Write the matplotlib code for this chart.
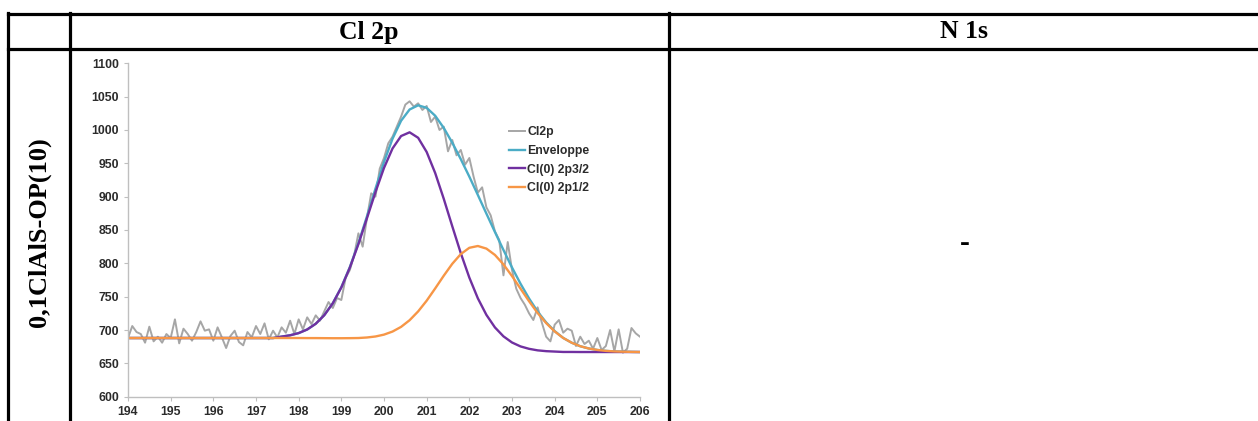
import numpy as np
import matplotlib.pyplot as plt
from matplotlib.lines import Line2D

# Energies (eV) – fit curves on a 0.2 eV grid, raw spectrum on a 0.1 eV grid
be_fit = np.round(np.arange(194.0, 206.01, 0.2), 1)
be_raw = np.round(np.arange(194.0, 206.01, 0.1), 1)

# Cl2p raw spectrum (counts)
cl2p = [688, 706, 697, 694, 681, 705, 683, 690, 681, 694,
        688, 716, 680, 702, 694, 684, 697, 713, 699, 701,
        684, 704, 689, 673, 691, 699, 682, 677, 697, 689,
        706, 694, 710, 686, 699, 689, 704, 696, 714, 694,
        716, 701, 719, 709, 722, 714, 728, 742, 733, 748,
        745, 778, 790, 812, 845, 825, 868, 905, 900, 942,
        958, 980, 990, 1005, 1020, 1038, 1043, 1035, 1040, 1030,
        1036, 1012, 1020, 1000, 1005, 968, 985, 962, 970, 948,
        958, 930, 906, 914, 884, 872, 848, 835, 782, 832,
        790, 762, 748, 738, 725, 715, 734, 711, 690, 683,
        708, 715, 696, 702, 699, 676, 690, 679, 684, 672,
        688, 670, 676, 700, 668, 701, 666, 672, 703, 695,
        690]

# Enveloppe
enveloppe = [688, 688, 688, 688, 688, 688, 688, 688, 688, 688,
             688, 688, 688, 688, 688, 688, 688, 688, 690.1, 692.1,
             695.4, 700.8, 709.4, 722.3, 740.2, 764.2, 794.5, 830.3, 870.4, 912.0,
             952.0, 986.9, 1013.8, 1030.7, 1037.0, 1033.2, 1021.3, 1003.1, 980.9, 956.2,
             930.0, 902.5, 874.6, 847.0, 820.0, 793.8, 769.4, 747.3, 727.7, 711.4,
             698.4, 688.1, 680.9, 675.7, 672.3, 670.1, 668.7, 667.9, 667.5, 667.2,
             667.0]

# Cl(0) 2p3/2
cl_2p32 = [688, 688, 688, 688, 688, 688, 688, 688, 688, 688,
           688, 688, 688, 688, 688, 688, 688, 688, 690.1, 692.1,
           695.4, 700.8, 709.4, 722.2, 740.1, 763.8, 793.7, 828.8, 867.5, 906.8,
           943.1, 972.3, 990.9, 996.5, 988.3, 967.0, 935.4, 896.9, 855.6, 815.2,
           778.6, 747.5, 722.7, 703.9, 690.5, 681.3, 675.4, 671.8, 669.5, 668.3,
           667.7, 667.1, 667.1, 667, 667, 667, 667, 667, 667, 667,
           667]

# Cl(0) 2p1/2
cl_2p12 = [688, 688, 688, 688, 688, 688, 688, 688, 688, 688,
           688, 688, 688, 688, 688, 688, 688, 688, 688, 688,
           688.0, 687.9, 687.9, 687.8, 687.7, 687.7, 687.8, 688.0, 688.8, 690.3,
           693.1, 697.7, 704.7, 714.7, 727.9, 744.0, 762.4, 781.4, 799.3, 813.9,
           823.3, 826.0, 822.1, 812.6, 798.4, 780.9, 762.0, 743.2, 725.6, 710.4,
           697.9, 688.1, 680.9, 675.7, 672.3, 670.1, 668.7, 667.9, 667.5, 667.2,
           667.0]

col_titles = ["Cl 2p", "N 1s"]
row_title = "0,1ClAlS-OP(10)"

W, H = 1258, 421
fig = plt.figure(figsize=(W / 100, H / 100), dpi=100)


def fx(px):
    return px / W


def fy(py):
    return 1 - py / H


# table grid
lw = 2.3
for y in (14, 49):
    fig.add_artist(Line2D([fx(8), 1], [fy(y), fy(y)], color="black", lw=lw))
for x in (8, 70, 669):
    fig.add_artist(Line2D([fx(x), fx(x)], [fy(13), 0], color="black", lw=lw))

serif = "Liberation Serif"
fig.text(fx(369), fy(32), col_titles[0], ha="center", va="center",
         fontsize=18.5, fontweight="bold", family=serif)
fig.text(fx(964), fy(32), col_titles[1], ha="center", va="center",
         fontsize=18.5, fontweight="bold", family=serif)
fig.text(fx(39), fy(232), row_title, ha="center", va="center", rotation=90,
         fontsize=19, fontweight="bold", family=serif)
fig.text(fx(965), fy(243), "-", ha="center", va="center",
         fontsize=21, fontweight="bold", family=serif)

# chart
ax = fig.add_axes([fx(128), fy(396.7), (640 - 128) / W, (396.7 - 63.3) / H])
ax.plot(be_raw, cl2p, color="#a6a6a6", lw=1.4, label="Cl2p")
ax.plot(be_fit, enveloppe, color="#4bacc6", lw=1.7, label="Enveloppe")
ax.plot(be_fit, cl_2p32, color="#7030a0", lw=1.7, label="Cl(0) 2p3/2")
ax.plot(be_fit, cl_2p12, color="#f79646", lw=1.7, label="Cl(0) 2p1/2")

ax.set_xlim(194, 206)
ax.set_ylim(600, 1100)
ax.set_xticks(range(194, 207))
ax.set_yticks(range(600, 1101, 50))
for s in ("top", "right"):
    ax.spines[s].set_visible(False)
for s in ("left", "bottom"):
    ax.spines[s].set_color("#bfbfbf")
    ax.spines[s].set_linewidth(1.0)
ax.tick_params(colors="#bfbfbf", length=3, width=0.8, labelcolor="#2b2b2b")
for lab in ax.get_xticklabels() + ax.get_yticklabels():
    lab.set_family("Liberation Sans")
    lab.set_fontweight("bold")
    lab.set_fontsize(8.8)

leg = ax.legend(loc="upper left", bbox_to_anchor=(fx(503), fy(120)),
                bbox_transform=fig.transFigure, frameon=False,
                handlelength=1.3, handletextpad=0.2, labelspacing=0.55,
                borderpad=0, prop={"family": "Liberation Sans", "weight": "bold", "size": 8.8})
for t in leg.get_texts():
    t.set_color("#2b2b2b")

fig.savefig("out.png", dpi=100)
